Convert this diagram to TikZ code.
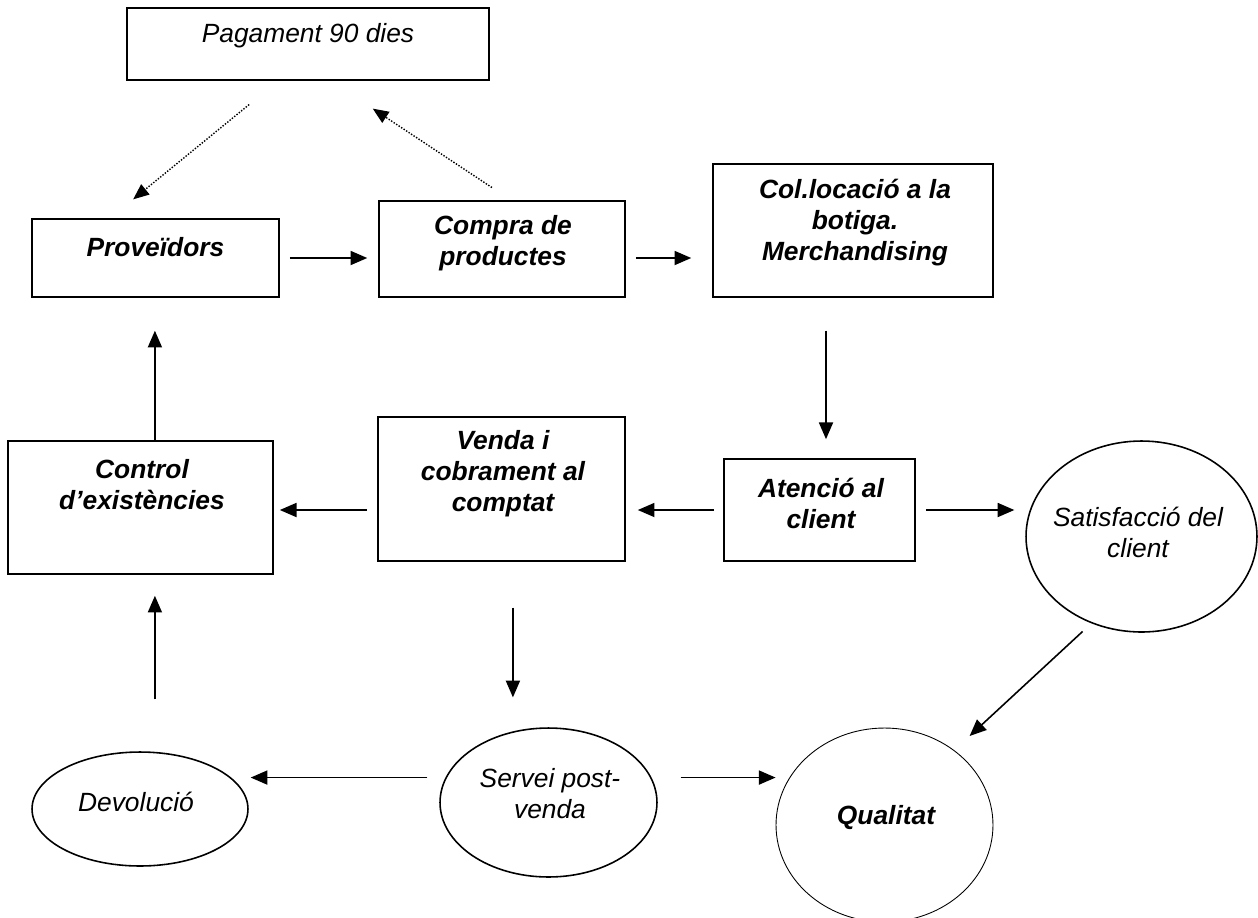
\documentclass[tikz,border=0pt]{standalone}
\usepackage{fontspec}
\setmainfont{Liberation Sans}
\usetikzlibrary{arrows.meta,shapes.geometric}

\tikzset{
  box/.style={draw, rectangle, line width=1pt, inner sep=0pt},
  oval/.style={draw, ellipse, line width=0.9pt, inner sep=0pt},
  lab/.style={align=center, inner sep=0pt, font=\fontsize{15}{17.6}\selectfont\itshape},
  blab/.style={lab, font=\fontsize{15}{17.6}\selectfont\bfseries\itshape},
  arr/.style={-{Triangle[length=9.5pt,width=8pt]}, line width=0.9pt},
  dotarr/.style={-{Triangle[length=9pt,width=7.4pt]}, line width=0.8pt, dash pattern=on 0.8pt off 0.9pt},
}

\begin{document}
\begin{tikzpicture}[x=0.02cm, y=-0.02cm]
\useasboundingbox (0,0) rectangle (1258,917);

% boxes
\node[box, minimum width=7.24cm, minimum height=1.44cm] (pag) at (308,44) {};
\node[lab] (pag-l) at (308,36) {Pagament 90 dies};
\node[box, minimum width=4.94cm, minimum height=1.56cm] (prov) at (155.5,258) {};
\node[blab] (prov-l) at (155.5,247) {Proveïdors};
\node[box, minimum width=4.92cm, minimum height=1.92cm] (compra) at (502,249) {};
\node[blab] (compra-l) at (503,243) {Compra de\\productes};
\node[box, minimum width=5.6cm, minimum height=2.66cm] (col) at (853,230.5) {};
\node[blab] (col-l) at (855,222.5) {Col.locació a la\\botiga.\\Merchandising};
\node[box, minimum width=3.82cm, minimum height=2.04cm] (aten) at (819.5,510) {};
\node[blab] (aten-l) at (821,503) {Atenció al\\client};
\node[box, minimum width=4.94cm, minimum height=2.88cm] (venda) at (501.5,489) {};
\node[blab] (venda-l) at (503,474) {Venda i\\cobrament al\\comptat};
\node[box, minimum width=5.3cm, minimum height=2.66cm] (control) at (140.5,507.5) {};
\node[blab] (control-l) at (142,485) {Control\\d’existències};

% ovals
\node[oval, minimum width=4.62cm, minimum height=3.82cm] (satis) at (1141.5,536.5) {};
\node[lab] (satis-l) at (1138,532) {Satisfacció del\\client};
\node[oval, minimum width=4.32cm, minimum height=2.28cm] (devol) at (140,809) {};
\node[lab] (devol-l) at (136,802) {Devolució};
\node[oval, minimum width=4.34cm, minimum height=2.98cm] (servei) at (548.5,802.5) {};
\node[lab] (servei-l) at (550,793.5) {Servei post-\\venda};
\node[oval, line width=0.5pt, minimum width=4.34cm, minimum height=3.88cm] (qual) at (884.5,825) {};
\node[blab] (qual-l) at (886,818) {Qualitat};

% free ends
\coordinate (vs) at ([xshift=6.5pt]venda.south);
\coordinate (sw) at ([yshift=14.2pt]servei.west);
\coordinate (se) at ([yshift=14.2pt]servei.east);
\coordinate (cs) at ([xshift=8.2pt]control.south);
\coordinate (cd) at ([xshift=3.7pt]aten.north);
\coordinate (pl) at ([xshift=-17pt]pag.south);
\coordinate (pr) at ([xshift=13pt]pag.south);
\coordinate (pv) at ([xshift=-25.8pt]prov.north);
\coordinate (cn) at ([xshift=5.1pt]compra.north);

% payment loop
\draw[dotarr, shorten <=21.3pt, shorten >=16.9pt] (pl) -- (pv);
\draw[dotarr, shorten <=13pt, shorten >=28.6pt] (cn) -- (pr);

% main flow
\draw[arr, shorten <=5.7pt, shorten >=6.2pt] (prov.east) -- (prov.east -| compra.west);
\draw[arr, shorten <=5.7pt, shorten >=11.9pt] (prov.east -| compra.east) -- (prov.east -| col.west);
\draw[arr, shorten <=18.7pt, shorten >=10.8pt] (cd |- col.south) -- (cd);
\draw[arr, shorten <=5.1pt, shorten >=6.8pt] (aten.west) -- (aten.west -| venda.east);
\draw[arr, shorten <=5.7pt, shorten >=3.4pt] (aten.west -| venda.west) -- (aten.west -| control.east);
\draw[arr, shorten <=5.7pt, shorten >=6.2pt] (aten.east) -- (aten.east -| satis.west);
\draw[arr, shorten <=6.8pt, shorten >=11.9pt] (satis.240) -- (qual.47);
\draw[arr, shorten <=26.1pt, shorten >=17pt] (vs) -- (vs |- servei.north);
\draw[arr, shorten <=6.8pt, shorten >=1.1pt] (sw) -- (sw -| devol.east);
\draw[arr, shorten <=13pt] (se) -- (se -| qual.west);
\draw[arr, shorten >=18.7pt] (cs |- control.north) -- (cs |- prov.south);
\draw[arr, shorten <=29.5pt, shorten >=11.9pt] (cs |- devol.north) -- (cs);
\end{tikzpicture}
\end{document}
